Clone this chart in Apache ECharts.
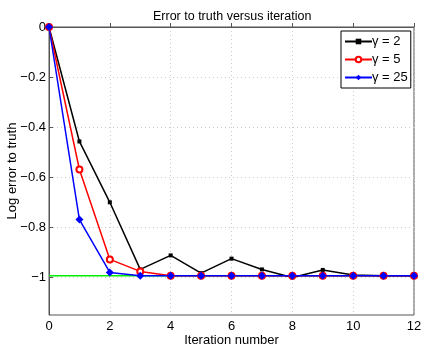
<!DOCTYPE html>
<html>
<head>
<meta charset="utf-8">
<script src="https://cdn.jsdelivr.net/npm/echarts@6/dist/echarts.min.js"></script>
<style>
  html, body { margin: 0; padding: 0; background: #fff; }
  #chart { width: 425px; height: 349px; }
</style>
</head>
<body>
<div id="chart"></div>
<script>
// data
const iterations = [0, 1, 2, 3, 4, 5, 6, 7, 8, 9, 10, 11, 12];
const gamma2 = [0, -0.457, -0.70, -0.968, -0.912, -0.983, -0.925, -0.968, -1.0, -0.97, -0.99, -0.993, -0.993];
const gamma5 = [0, -0.569, -0.928, -0.976, -0.993, -0.993, -0.993, -0.993, -0.993, -0.993, -0.993, -0.993, -0.993];
const gamma25 = [0, -0.769, -0.98, -0.993, -0.993, -0.993, -0.993, -0.993, -0.993, -0.993, -0.993, -0.993, -0.993];
const truthLevel = [-0.993, -0.993, -0.993, -0.993, -0.993, -0.993, -0.993, -0.993, -0.993, -0.993, -0.993, -0.993, -0.993];
const yTicks = [0, -0.2, -0.4, -0.6, -0.8, -1];
const xTicks = [0, 2, 4, 6, 8, 10, 12];

const font = "'Liberation Sans', Arial, sans-serif";

function pairs(vals) {
  return iterations.map((x, i) => [x, vals[i]]);
}

const myChart = echarts.init(document.getElementById("chart"));
const option = {
  animation: false,
  title: {
    text: "Error to truth versus iteration",
    left: 148,
    top: 5,
    textStyle: { fontSize: 12.5, fontWeight: "normal", color: "#000", fontFamily: font },
  },
  grid: {
    left: 49,
    right: 11,
    top: 27,
    bottom: 34,
    containLabel: false,
    outerBoundsMode: "none",
    show: true,
    borderColor: "#555",
    borderWidth: 1,
    backgroundColor: "#fff",
  },
  legend: {
    left: 341,
    top: 31,
    orient: "vertical",
    itemWidth: 27,
    itemHeight: 7,
    itemGap: 5,
    padding: [4, 3, 4, 3],
    borderColor: "#000",
    borderWidth: 1,
    backgroundColor: "#fff",
    textStyle: { fontSize: 13, color: "#000", fontFamily: font, padding: [0, 0, 0, -5] },
    data: ["γ = 2", "γ = 5", "γ = 25"],
  },
  xAxis: {
    type: "value",
    min: 0,
    max: 12,
    interval: 2,
    name: "Iteration number",
    nameLocation: "middle",
    nameGap: 19,
    nameMoveOverlap: false,
    nameTextStyle: { fontSize: 13, color: "#000", fontFamily: font },
    axisLine: { show: true, lineStyle: { color: "#555" } },
    axisTick: { show: true, inside: true, length: 4, lineStyle: { color: "#555" } },
    axisLabel: { fontSize: 13, color: "#000", fontFamily: font, margin: 5, customValues: xTicks },
    splitLine: { show: true, lineStyle: { color: "#ccc", type: [1, 3] } },
  },
  yAxis: {
    type: "value",
    min: -1.15,
    max: 0,
    name: "Log error to truth",
    nameLocation: "middle",
    nameGap: 30,
    nameMoveOverlap: false,
    nameTextStyle: { fontSize: 13, color: "#000", fontFamily: font },
    axisLine: { show: true, lineStyle: { color: "#555" } },
    axisTick: { show: true, inside: true, length: 4, lineStyle: { color: "#555" }, customValues: yTicks },
    axisLabel: {
      fontSize: 13,
      color: "#000",
      fontFamily: font,
      margin: 3,
      customValues: yTicks,
      formatter: (v) => (v === 0 ? "0" : String(+v.toFixed(1)).replace("-", "−")),
    },
    splitLine: { show: true, lineStyle: { color: "#ccc", type: [1, 3] } },
  },
  series: [
    {
      name: "truth",
      type: "line",
      data: pairs(truthLevel),
      showSymbol: false,
      symbol: "none",
      lineStyle: { color: "#00ee00", width: 1.5 },
      silent: true,
    },
    {
      name: "γ = 2",
      type: "line",
      data: pairs(gamma2),
      symbol: "rect",
      symbolSize: 4,
      itemStyle: { color: "#000" },
      lineStyle: { color: "#000", width: 1.5 },
    },
    {
      name: "γ = 5",
      type: "line",
      data: pairs(gamma5),
      symbol: "emptyCircle",
      symbolSize: 6,
      itemStyle: { color: "#ff0000", borderWidth: 1.2 },
      lineStyle: { color: "#ff0000", width: 1.5 },
    },
    {
      name: "γ = 25",
      type: "line",
      data: pairs(gamma25),
      symbol: "diamond",
      symbolSize: 8,
      itemStyle: { color: "#0000ff" },
      lineStyle: { color: "#0000ff", width: 1.5 },
    },
  ],
};
myChart.setOption(option);
</script>
</body>
</html>
